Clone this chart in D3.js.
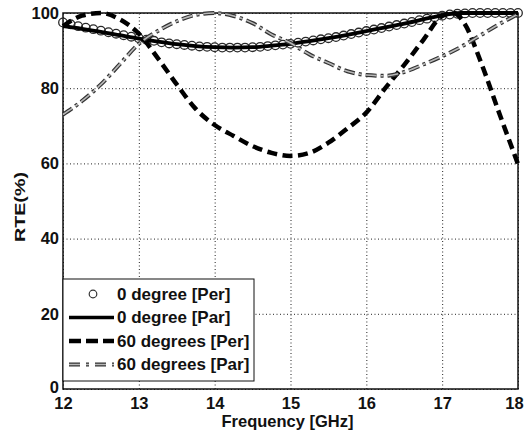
<!DOCTYPE html>
<html>
<head>
<meta charset="utf-8">
<script src="https://cdn.jsdelivr.net/npm/d3@7"></script>
<style>
  body { margin: 0; background: #fff; }
  svg text { font-family: "Liberation Sans", Arial, Helvetica, sans-serif; font-weight: bold; fill: #111; }
</style>
</head>
<body>
<svg id="chart" width="526" height="438"></svg>
<script>
// frequency samples (GHz)
var freqFine = [12.0, 12.1, 12.2, 12.3, 12.4, 12.5, 12.6, 12.7, 12.8, 12.9,
                13.0, 13.1, 13.2, 13.3, 13.4, 13.5, 13.6, 13.7, 13.8, 13.9,
                14.0, 14.1, 14.2, 14.3, 14.4, 14.5, 14.6, 14.7, 14.8, 14.9,
                15.0, 15.1, 15.2, 15.3, 15.4, 15.5, 15.6, 15.7, 15.8, 15.9,
                16.0, 16.1, 16.2, 16.3, 16.4, 16.5, 16.6, 16.7, 16.8, 16.9,
                17.0, 17.1, 17.2, 17.3, 17.4, 17.5, 17.6, 17.7, 17.8, 17.9, 18.0];
var freqCoarse = [12.0, 12.25, 12.5, 12.75, 13.0, 13.25, 13.5, 13.75, 14.0, 14.25, 14.5, 14.75,
                  15.0, 15.25, 15.5, 15.75, 16.0, 16.25, 16.5, 16.75, 17.0, 17.25, 17.5, 17.75, 18.0];
var freqPer60 = [12.0, 12.25, 12.5, 12.75, 13.0, 13.25, 13.5, 13.75, 14.0, 14.25, 14.5, 14.75,
                 15.0, 15.25, 15.5, 15.75, 16.0, 16.25, 16.5, 16.75, 17.0, 17.15, 17.3, 17.5, 17.75, 18.0];

// RTE (%) values
var rtePer0 = [97.5, 97.0, 96.5, 96.1, 95.7, 95.3, 94.9, 94.5, 94.1, 93.7,
               93.3, 92.9, 92.6, 92.2, 91.9, 91.7, 91.5, 91.3, 91.1, 91.0,
               90.9, 90.8, 90.8, 90.8, 90.8, 90.9, 91.0, 91.2, 91.4, 91.6,
               91.8, 92.1, 92.4, 92.7, 93.0, 93.3, 93.6, 94.0, 94.4, 94.8,
               95.2, 95.6, 96.0, 96.4, 96.8, 97.2, 97.6, 98.1, 98.5, 98.9,
               99.3, 99.6, 99.8, 99.9, 100, 100, 100, 100, 100, 100, 100];
var rtePar0 = [96.5, 95.8, 95.0, 94.1, 93.2, 92.4, 91.7, 91.2, 90.9, 90.8, 90.9, 91.3,
               91.8, 92.5, 93.3, 94.2, 95.2, 96.2, 97.2, 98.3, 99.4, 100, 100, 100, 100];
var rtePer60 = [96.5, 99.3, 100, 98.3, 94.5, 88.0, 81.0, 74.5, 70.2, 67.3, 64.6, 62.8,
                62.0, 62.8, 65.5, 69.3, 73.5, 80.0, 86.2, 92.8, 99.2, 100, 97.0, 87.5, 73.5, 59.8];
var rtePar60 = [73.0, 76.6, 81.0, 86.4, 91.8, 95.2, 97.8, 99.5, 100, 99.2, 97.3, 94.3,
                92.0, 89.0, 86.7, 84.5, 83.5, 83.3, 84.3, 86.3, 88.5, 91.0, 94.0, 97.0, 99.7];

var xTicks = [12, 13, 14, 15, 16, 17, 18];
var yTicks = [0, 20, 40, 60, 80, 100];
var legendLabels = ["0 degree [Per]", "0 degree [Par]", "60 degrees [Per]", "60 degrees [Par]"];

var plotLeft = 63, plotRight = 518, plotTop = 13, plotBottom = 389;

var svg = d3.select("#chart");
var x = d3.scaleLinear().domain([12, 18]).range([plotLeft, plotRight]);
var y = d3.scaleLinear().domain([0, 100]).range([plotBottom, plotTop]);

//dotted grid
svg.append("g")
  .attr("transform", "translate(0," + plotBottom + ")")
  .call(d3.axisBottom(x).tickValues(xTicks).tickSize(-(plotBottom - plotTop)).tickFormat(""))
  .call(g => g.select(".domain").remove())
  .selectAll("line").attr("stroke", "#222").attr("stroke-dasharray", "1,2.5");
svg.append("g")
  .attr("transform", "translate(" + plotLeft + ",0)")
  .call(d3.axisLeft(y).tickValues(yTicks).tickSize(-(plotRight - plotLeft)).tickFormat(""))
  .call(g => g.select(".domain").remove())
  .selectAll("line").attr("stroke", "#222").attr("stroke-dasharray", "1,2.5");

//tick labels
var xAxis = svg.append("g")
  .attr("transform", "translate(0," + plotBottom + ")")
  .call(d3.axisBottom(x).tickValues(xTicks).tickFormat(d3.format("d")).tickSize(0).tickPadding(8));
xAxis.select(".domain").remove();
xAxis.selectAll("text").style("font-size", "16.5px").attr("fill", "#111")
  .attr("dx", d => d == 18 ? -4 : 0);

var yAxis = svg.append("g")
  .attr("transform", "translate(" + plotLeft + ",0)")
  .call(d3.axisLeft(y).tickValues(yTicks).tickFormat(d3.format("d")).tickSize(0).tickPadding(4));
yAxis.select(".domain").remove();
yAxis.selectAll("text").style("font-size", "16.5px").attr("fill", "#111")
  .attr("y", d => d == 0 ? -2 : 0);

//frame
svg.append("rect")
  .attr("x", plotLeft).attr("y", plotTop)
  .attr("width", plotRight - plotLeft).attr("height", plotBottom - plotTop)
  .attr("fill", "none").attr("stroke", "#111").attr("stroke-width", 1.5);

var line = d3.line()
  .x(d => x(d[0]))
  .y(d => y(d[1]))
  .curve(d3.curveMonotoneX);

// 0 degree [Per] - open circles
svg.append("g").selectAll("circle")
  .data(d3.zip(freqFine, rtePer0))
  .join("circle")
  .attr("cx", d => x(d[0]))
  .attr("cy", d => y(d[1]))
  .attr("r", 4.3)
  .attr("fill", "none")
  .attr("stroke", "#2a2a2a")
  .attr("stroke-width", 1.3);

// 0 degree [Par] - solid
svg.append("path")
  .datum(d3.zip(freqCoarse, rtePar0))
  .attr("d", line)
  .attr("fill", "none")
  .attr("stroke", "#000")
  .attr("stroke-width", 3.8);

// 60 degrees [Per] - thick dashes
svg.append("path")
  .datum(d3.zip(freqPer60, rtePer60))
  .attr("d", line)
  .attr("fill", "none")
  .attr("stroke", "#000")
  .attr("stroke-width", 4.5)
  .attr("stroke-dasharray", "10,5.5");

// 60 degrees [Par] - gray dash-dot (drawn twice for the hollow look)
var par60 = d3.zip(freqCoarse, rtePar60);
svg.append("path")
  .datum(par60)
  .attr("d", line)
  .attr("fill", "none")
  .attr("stroke", "#333")
  .attr("stroke-width", 4)
  .attr("stroke-dasharray", "11,4,3,4");
svg.append("path")
  .datum(par60)
  .attr("d", line)
  .attr("fill", "none")
  .attr("stroke", "#b8b8b8")
  .attr("stroke-width", 1.6)
  .attr("stroke-dasharray", "11,4,3,4");

//axis titles
svg.append("text")
  .attr("x", (plotLeft + plotRight) / 2 - 3)
  .attr("y", 427)
  .attr("text-anchor", "middle")
  .style("font-size", "16.5px")
  .text("Frequency [GHz]");

svg.append("text")
  .attr("transform", "translate(25,207) rotate(-90)")
  .attr("text-anchor", "middle")
  .attr("textLength", 70)
  .attr("lengthAdjust", "spacingAndGlyphs")
  .style("font-size", "14px")
  .text("RTE(%)");

//legend
var legend = svg.append("g");
legend.append("rect")
  .attr("x", 63).attr("y", 279)
  .attr("width", 191).attr("height", 102)
  .attr("fill", "#fff").attr("stroke", "#111").attr("stroke-width", 1);

var rowY = [294, 317.5, 341, 364.5];
legendLabels.forEach(function(label, i) {
  legend.append("text")
    .attr("x", 117)
    .attr("y", rowY[i])
    .attr("dy", "0.35em")
    .style("font-size", "17px")
    .text(label);
});
legend.append("circle")
  .attr("cx", 93).attr("cy", rowY[0]).attr("r", 3.8)
  .attr("fill", "none").attr("stroke", "#333").attr("stroke-width", 1.2);
legend.append("line")
  .attr("x1", 69).attr("x2", 114).attr("y1", rowY[1]).attr("y2", rowY[1])
  .attr("stroke", "#000").attr("stroke-width", 3.5);
legend.append("line")
  .attr("x1", 69).attr("x2", 114).attr("y1", rowY[2]).attr("y2", rowY[2])
  .attr("stroke", "#000").attr("stroke-width", 4.5).attr("stroke-dasharray", "12,5");
legend.append("line")
  .attr("x1", 69).attr("x2", 114).attr("y1", rowY[3]).attr("y2", rowY[3])
  .attr("stroke", "#333").attr("stroke-width", 4).attr("stroke-dasharray", "11,6,3,6");
legend.append("line")
  .attr("x1", 69).attr("x2", 114).attr("y1", rowY[3]).attr("y2", rowY[3])
  .attr("stroke", "#b8b8b8").attr("stroke-width", 1.6).attr("stroke-dasharray", "11,6,3,6");
</script>
</body>
</html>
